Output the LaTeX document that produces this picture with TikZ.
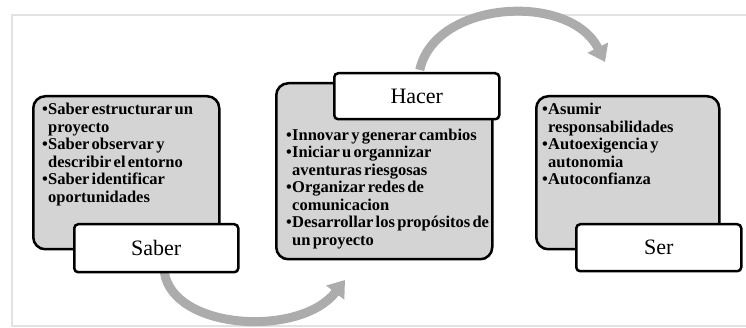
\documentclass[tikz,border=0pt]{standalone}
\usepackage{fontspec}
\setmainfont{Liberation Serif}[WordSpace=0.55]
\usetikzlibrary{arrows.meta}
\definecolor{boxgray}{RGB}{212,212,212}
\definecolor{arrowgray}{RGB}{172,172,172}
\definecolor{framegray}{RGB}{226,226,226}
\pgfdeclarelayer{bg}
\pgfsetlayers{bg,main}
\newcommand{\bl}{\makebox[6pt][l]{\textbullet}}
\newcommand{\ct}{\hspace*{6pt}}
\tikzset{
  graybox/.style={draw=black, line width=2.5pt, fill=boxgray, rounded corners=12pt, anchor=north west, inner sep=0pt},
  labelbox/.style={draw=black, line width=2.5pt, fill=white, rounded corners=4pt, anchor=north west, inner sep=0pt, font=\fontsize{22}{26}\selectfont},
  bullettext/.style={anchor=north west, inner sep=0pt, align=left, font=\bfseries\fontsize{16.5}{17.5}\selectfont},
  cyclearrow/.style={draw=arrowgray, line width=9pt, -{Triangle[width=22pt,length=16pt]}},
}
\begin{document}
\begin{tikzpicture}[x=1pt,y=-1pt]
\useasboundingbox (0,0) rectangle (746,328);
% boxes
\node[graybox, minimum width=186pt, minimum height=153pt] (saberbox) at (32,95) {};
\node[graybox, minimum width=216pt, minimum height=176pt] (hacerbox) at (275,82) {};
\node[graybox, minimum width=183pt, minimum height=153pt] (serbox) at (535,95) {};
% labels
\node[labelbox, minimum width=164pt, minimum height=48pt] (saberlab) at (73,223) {Saber};
\node[labelbox, minimum width=165pt, minimum height=46pt] (hacerlab) at (333,72) {Hacer};
\node[labelbox, minimum width=165pt, minimum height=47pt] (serlab) at (575,223) {Ser};
% texts
\node[bullettext] (sabertext) at (42,103) {\bl Saber estructurar un\\ \ct proyecto\\ \bl Saber observar y\\ \ct describir el entorno\\ \bl Saber identificar\\ \ct oportunidades};
\node[bullettext] (hacertext) at (286,128.5) {\bl Innovar y generar cambios\\ \bl Iniciar u organnizar\\ \ct aventuras riesgosas\\ \bl Organizar redes de\\ \ct comunicacion\\ \bl Desarrollar los propósitos de\\ \ct un proyecto};
\node[bullettext] (sertext) at (542,103) {\bl Asumir\\ \ct responsabilidades\\ \bl Autoexigencia y\\ \ct autonomia\\ \bl Autoconfianza};
% cycle arrows
\coordinate (a1end) at (345,280);
\coordinate (a2end) at (605,62);
\begin{pgfonlayer}{bg}
\draw[framegray, line width=2pt] (746,15) -- (12,15) -- (12,326) -- (746,326);
\path[cyclearrow] ([xshift=8pt,yshift=2pt]saberlab.south) .. controls (172,330) and (300,338) .. (a1end);
\path[cyclearrow] ([xshift=3pt,yshift=2pt]hacerlab.north) .. controls (435,0) and (570,-8) .. (a2end);
\end{pgfonlayer}
\end{tikzpicture}
\end{document}
